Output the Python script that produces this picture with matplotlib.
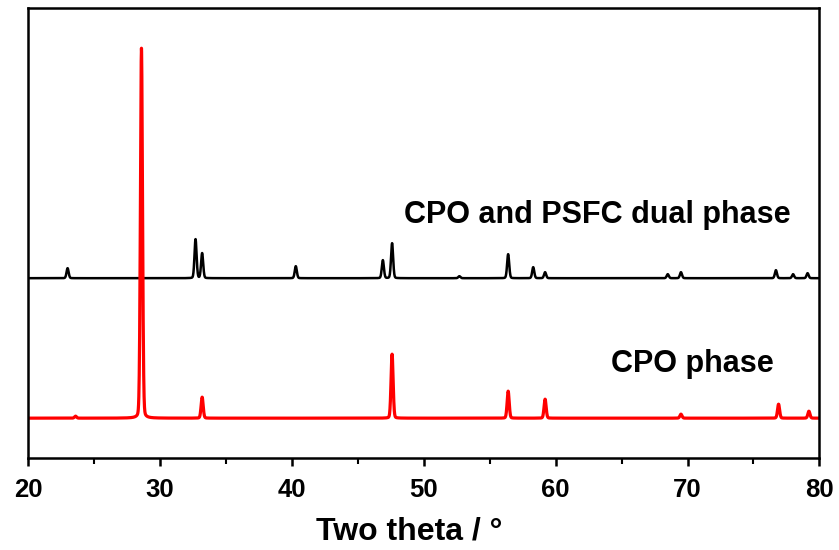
import numpy as np
import matplotlib
matplotlib.use('Agg')
import matplotlib.pyplot as plt
from matplotlib.ticker import MultipleLocator

# peak positions (2 theta) and heights for each pattern
dual_pos = [23.0, 32.7, 33.2, 40.3, 46.9, 47.6, 52.7, 56.4, 58.3, 59.2, 68.5, 69.5, 76.7, 78.0, 79.1]
dual_int = [10, 39, 25, 12, 18, 35, 2, 24, 11, 6, 4, 6, 8, 4, 5]
cpo_pos = [23.6, 28.6, 33.2, 47.6, 56.4, 59.2, 69.5, 76.9, 79.2]
cpo_int = [2, 370, 21, 64, 27, 19, 4, 14, 7]

dual_offset = 140
cpo_offset = 0

two_theta = np.linspace(20, 80, 6001)


def pattern(pos, inten, w=0.08):
    # pseudo-voigt: mostly gaussian, small lorentzian share
    y = np.zeros_like(two_theta)
    for p, h in zip(pos, inten):
        g = np.exp(-0.5 * ((two_theta - p) / w) ** 2)
        l = 1 / (1 + ((two_theta - p) / w) ** 2)
        y += h * (0.85 * g + 0.15 * l)
    return y


fig = plt.figure(figsize=(8.39, 5.5), dpi=100)
ax = fig.add_axes([0.0334, 0.167, 0.9433, 0.818])

ax.plot(two_theta, pattern(dual_pos, dual_int) + dual_offset, color='black', lw=1.8)
ax.plot(two_theta, pattern(cpo_pos, cpo_int) + cpo_offset, color='#ff0000', lw=2.3)

ax.set_xlim(20, 80)
ax.set_ylim(-40, 410)
ax.set_yticks([])
ax.xaxis.set_major_locator(MultipleLocator(10))
ax.xaxis.set_minor_locator(MultipleLocator(5))
ax.tick_params(axis='x', which='major', direction='out', length=6, width=1.8, pad=8)
ax.tick_params(axis='x', which='minor', direction='out', length=4, width=1.5)
for s in ax.spines.values():
    s.set_linewidth(1.8)

for lab in ax.get_xticklabels():
    lab.set_fontfamily('Liberation Sans')
    lab.set_fontweight('bold')
    lab.set_fontsize(18.5)

ax.set_xlabel('Two theta / °', fontfamily='Liberation Sans', fontweight='bold', fontsize=23, labelpad=11)
ax.xaxis.label.set_x(0.481)

ax.text(0.475, 0.522, 'CPO and PSFC dual phase', transform=ax.transAxes,
        fontfamily='Liberation Sans', fontweight='bold', fontsize=22, va='baseline')
ax.text(0.736, 0.191, 'CPO phase', transform=ax.transAxes,
        fontfamily='Liberation Sans', fontweight='bold', fontsize=22, va='baseline')

fig.savefig('out.png', dpi=100)
